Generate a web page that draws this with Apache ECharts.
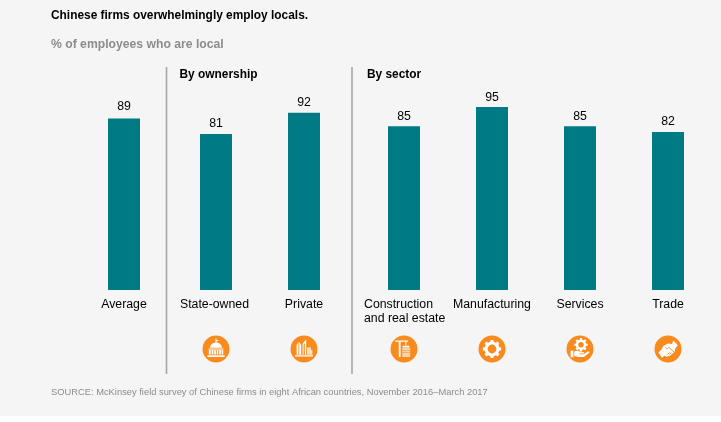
<!DOCTYPE html>
<html><head><meta charset="utf-8">
<script src="https://cdn.jsdelivr.net/npm/echarts@6/dist/echarts.min.js"></script>
<style>html,body{margin:0;padding:0;background:#fff}#c{width:721px;height:422px}</style>
</head><body><div id="c"></div>
<script>
const titleText = 'Chinese firms overwhelmingly employ locals.';
const subtitleText = '% of employees who are local';
const sourceText = 'SOURCE: McKinsey field survey of Chinese firms in eight African countries, November 2016–March 2017';
const averageCats = ['Average'];
const averageVals = [89];
const ownershipCats = ['State-owned', 'Private'];
const ownershipVals = [81, 92];
const sectorCats = ['Construction\nand real estate', 'Manufacturing', 'Services', 'Trade'];
const sectorVals = [85, 95, 85, 82];
const groupHeads = ['By ownership', 'By sector'];

const FONT = '"Liberation Sans", Arial, sans-serif';
const chart = echarts.init(document.getElementById('c'), null, {renderer: 'canvas'});
const panels = [
  {left: 80, width: 88, cats: averageCats, vals: averageVals, icons: [], gap: 6},
  {left: 172, width: 176, cats: ownershipCats, vals: ownershipVals, icons: ['capitol', 'towers'], gap: 4},
  {left: 360, width: 352, cats: sectorCats, vals: sectorVals, icons: ['crane', 'gear', 'hand', 'shake'], gap: 4}
];
const BASE = 290, H = 192.6, ICON_Y = 349, ORANGE = '#f98a1e';

function gearPath(cx, cy, rOut, rIn, teeth) {
  let d = '';
  const step = Math.PI * 2 / teeth;
  for (let i = 0; i < teeth; i++) {
    const a = i * step;
    const pts = [[rIn, a - step * 0.5], [rIn, a - step * 0.3], [rOut, a - step * 0.2], [rOut, a + step * 0.2], [rIn, a + step * 0.3]];
    pts.forEach((p, j) => {
      d += ((i === 0 && j === 0) ? 'M' : 'L') + (cx + p[0] * Math.cos(p[1])).toFixed(2) + ' ' + (cy + p[0] * Math.sin(p[1])).toFixed(2);
    });
  }
  return d + 'Z';
}
const glyph = (d, fill) => ({type: 'path', shape: {pathData: d}, style: {fill: fill || '#fff'}});
const hole = (cx, cy, r) => ({type: 'circle', shape: {cx, cy, r}, style: {fill: ORANGE}});
const slit = d => ({type: 'path', shape: {pathData: d}, style: {fill: 'none', stroke: ORANGE, lineWidth: 0.9}});

const iconParts = {
  capitol: [glyph('M-0.5 -10.5H0.5V-9.2L3.2 -8.4L0.5 -7.6V-6.4C3.8 -6 5.8 -3.8 6 -1.2H-6C-5.8 -3.8 -3.8 -6 -0.5 -6.4Z M-7.5 -0.6H7.5V0.6H-7.5Z M-7.2 1H-5.2V5.6H-7.2Z M-4.4 1H-2.6V5.6H-4.4Z M-1.8 1H-0.1V5.6H-1.8Z M0.7 1H2.4V5.6H0.7Z M3.2 1H5V5.6H3.2Z M5.6 1H7.2V5.6H5.6Z M-8.6 6.2H8.6V8H-8.6Z')],
  towers: [glyph('M-7.4 -4L-5.6 -7.2V5.8H-7.4Z M-4.8 -7.2L-2.8 -4V5.8H-4.8Z M-1.4 -5.6L2.2 -9.6V5.8H0.8V-5.8L-0.4 -4.4V5.8H-1.4Z M-9 6.2H9V7.6H-9Z'), glyph('M3 -1.6H7V1H8.4V5.8H3Z', '#fde0c2')],
  crane: [glyph('M-8.8 -8.6H4V-7.2H-3.4V8H-5.2V-7.2H-8.8Z M1.4 -7.2H2.4V-4H1.4Z M-1.4 -3.2H5.4V-1.6H-1.4Z'), glyph('M-1.8 -0.9H6.2V0.9H-1.8Z M-1.8 1.6H6.2V3.4H-1.8Z M-1.8 4.1H6.2V8H-1.8Z', '#fcd3aa')],
  gear: [glyph(gearPath(0, 0, 9.2, 7.4, 8)), hole(0, 0, 4.4)],
  hand: [glyph('M-9.4 1.8H-6.6V8.2H-9.4Z M-5.8 2.6C-3 1.2 -1.4 2 0.4 2.9H3.2C4.4 2.9 4.4 4.6 3.2 4.6H-0.4V5.2H3.4L7.8 2.6C9.2 2 9.8 3.4 8.8 4.2L3.8 8H-1.4L-5.8 6.9Z'), glyph(gearPath(1, -4.2, 6.8, 5.2, 8)), hole(1, -4.2, 2.7)],
  shake: [glyph('M-9.6 3.4L-6.4 0.6L-4.6 -3L0 -5.4L4 -5L5.4 -8.4L9.8 -3.8L7.4 -0.8L6.6 2.8L2.4 6.4L-1.6 7.8L-3.4 6.4L-6 8.8Z'), slit('M-2.6 -2.2C-2 0 -0.4 0.2 1 -1.6L6 3 M-0.8 5.6L1.4 3.4 M1.6 5.4L3.4 3.6')]
};

const textEl = (x, y, text, font, fill) => ({type: 'text', x, y, style: {text, font: font + ' ' + FONT, fill, verticalAlign: 'middle'}});
const graphics = [
  {type: 'rect', z: -10, shape: {x: 0, y: 0, width: 721, height: 416}, style: {fill: '#f5f5f5'}},
  {type: 'line', shape: {x1: 166.5, y1: 67, x2: 166.5, y2: 374}, style: {stroke: '#a6a6a6', lineWidth: 1.6}},
  {type: 'line', shape: {x1: 352, y1: 67, x2: 352, y2: 374}, style: {stroke: '#a6a6a6', lineWidth: 1.6}},
  textEl(179.5, 75, groupHeads[0], 'bold 11.9px', '#000'),
  textEl(367, 75, groupHeads[1], 'bold 11.9px', '#000'),
  textEl(51, 15.5, titleText, 'bold 11.9px', '#000'),
  textEl(51, 44.5, subtitleText, 'bold 12.2px', '#8c8c8c'),
  textEl(51, 392, sourceText, '9.35px', '#8c8c8c')
];

const barSeries = panels.map((p, i) => ({
  type: 'bar', xAxisIndex: i, yAxisIndex: i, barWidth: 32,
  data: p.vals.map(v => ({value: v, label: {distance: v === 95 ? 3 : p.gap}})),
  itemStyle: {color: '#007a85'},
  label: {show: true, position: 'top', color: '#000', fontFamily: FONT, fontSize: 12.3}
}));
const iconSeries = panels.map((p, i) => ({
  type: 'custom', xAxisIndex: i, yAxisIndex: i, clip: false, silent: true,
  data: p.icons.map((_, j) => [j, 0]),
  encode: {x: 0, y: 1},
  renderItem: (params, api) => ({
    type: 'group',
    x: api.coord([api.value(0), 0])[0],
    y: ICON_Y,
    children: [{type: 'circle', shape: {cx: 0, cy: 0, r: 13.5}, style: {fill: ORANGE}}].concat(iconParts[p.icons[params.dataIndex]])
  })
}));

chart.setOption({
  animation: false,
  backgroundColor: '#ffffff',
  graphic: graphics,
  grid: panels.map(p => ({left: p.left, width: p.width, top: BASE - H, height: H})),
  xAxis: panels.map((p, i) => ({
    type: 'category', gridIndex: i,
    data: p.cats.map(c => c === 'State-owned' ? {value: c, textStyle: {padding: [0, 3, 0, 0]}} : c),
    axisLine: {show: false}, axisTick: {show: false},
    axisLabel: {
      interval: 0, color: '#000', fontFamily: FONT, fontSize: 12.3, lineHeight: 13.5, margin: 8, verticalAlign: 'top',
      formatter: v => v.includes('\n') ? v.split('\n').map(l => '{left|' + l + '}').join('\n') : v,
      rich: {left: {width: 80, align: 'left', color: '#000', fontFamily: FONT, fontSize: 12.3, lineHeight: 13.5}}
    }
  })),
  yAxis: panels.map((p, i) => ({type: 'value', gridIndex: i, min: 0, max: 100, show: false})),
  series: barSeries.concat(iconSeries)
});
</script></body></html>
